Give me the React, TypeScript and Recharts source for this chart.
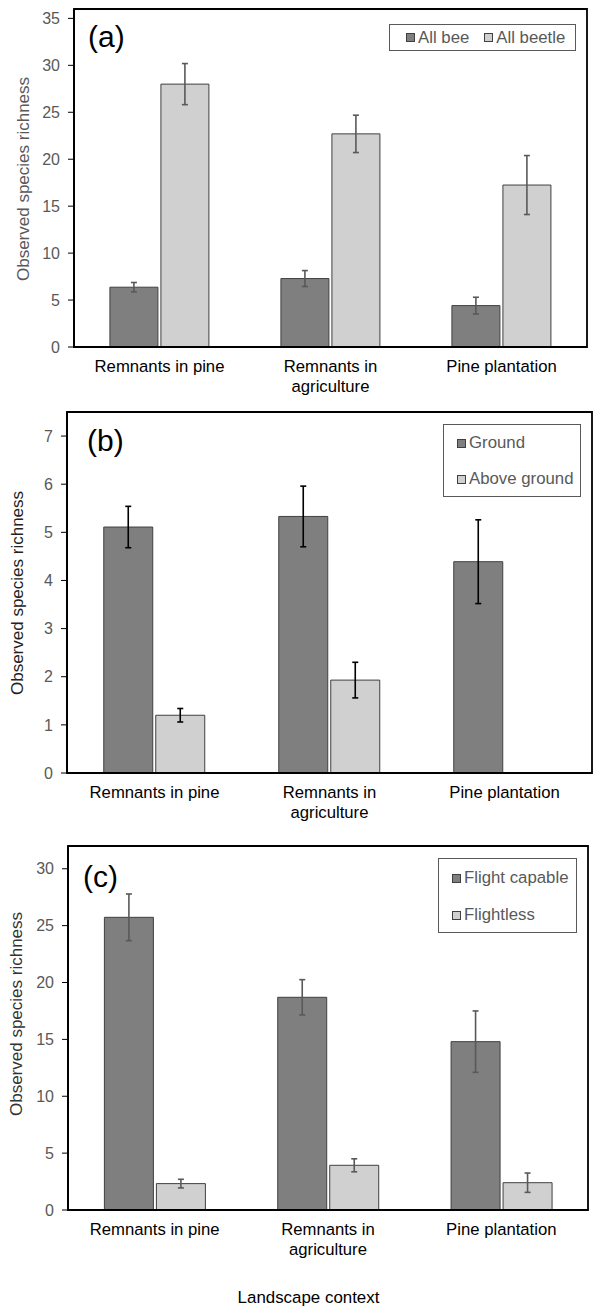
import React from "react";
import { BarChart, Bar, XAxis, YAxis, ErrorBar, Legend, ReferenceArea } from "recharts";

const FONT = '"Liberation Sans", Arial, sans-serif';
const DARK = "#7f7f7f";
const LIGHT = "#d0d0d0";
const OUTLINE = "#404040";
const GREY_TEXT = "#595959";

// categories along the x axis
const categories = ["Remnants in pine", "Remnants in agriculture", "Pine plantation"];
const categoryLines = [["Remnants in pine"], ["Remnants in", "agriculture"], ["Pine plantation"]];

// (a) bees vs beetles
const beeRichness = [6.37, 7.29, 4.41];
const beeSE = [0.5, 0.85, 0.89];
const beetleRichness = [28.0, 22.7, 17.25];
const beetleSE = [2.19, 1.99, 3.14];

// (b) ground vs above ground
const groundRichness = [5.11, 5.33, 4.39];
const groundSE = [0.43, 0.63, 0.87];
const aboveRichness = [1.2, 1.93, null];
const aboveSE = [0.14, 0.37, null];

// (c) flight capable vs flightless
const flightRichness = [25.73, 18.7, 14.8];
const flightSE = [2.05, 1.55, 2.7];
const flightlessRichness = [2.32, 3.93, 2.4];
const flightlessSE = [0.38, 0.57, 0.85];

const ticksA = [0, 5, 10, 15, 20, 25, 30, 35];
const ticksB = [0, 1, 2, 3, 4, 5, 6, 7];
const ticksC = [0, 5, 10, 15, 20, 25, 30];

type Series = { name: string; fill: string; values: (number | null)[]; se: (number | null)[] };

function buildRows(series: Series[]) {
  return categories.map((cat, i) => {
    const row: Record<string, any> = { cat };
    series.forEach((s, k) => {
      row[`s${k}`] = s.values[i];
      row[`e${k}`] = s.se[i];
    });
    return row;
  });
}

function CategoryTick({ x, y, payload }: any) {
  const idx = categories.indexOf(payload.value);
  const lines = categoryLines[idx] ?? [payload.value];
  return (
    <text x={x} y={y} textAnchor="middle" fontFamily={FONT} fontSize={16.7} fill="#000">
      {lines.map((l, i) => (
        <tspan key={i} x={x} dy={i === 0 ? 25 : 19.5}>
          {l}
        </tspan>
      ))}
    </text>
  );
}

type LegendBox = {
  left: number;
  top: number;
  width: number;
  height: number;
  vertical: boolean;
  rowCenters?: number[];
};

function Swatch({ fill }: { fill: string }) {
  return (
    <span
      style={{
        display: "inline-block",
        width: 7,
        height: 7,
        background: fill,
        border: `1px solid ${OUTLINE}`,
        marginRight: 3,
      }}
    />
  );
}

function makeLegend(series: Series[], box: LegendBox) {
  return () => (
    <div
      style={{
        position: "relative",
        width: box.width,
        height: box.height,
        boxSizing: "border-box",
        border: `1px solid ${GREY_TEXT}`,
        background: "#fff",
        fontFamily: FONT,
        fontSize: 16.8,
        color: GREY_TEXT,
      }}
    >
      {box.vertical ? (
        series.map((s, i) => (
          <div
            key={s.name}
            style={{
              position: "absolute",
              left: 13,
              top: (box.rowCenters ?? [])[i] - 10,
              height: 20,
              display: "flex",
              alignItems: "center",
              whiteSpace: "nowrap",
            }}
          >
            <Swatch fill={s.fill} />
            {s.name}
          </div>
        ))
      ) : (
        <div
          style={{
            position: "absolute",
            left: 16,
            top: 0,
            height: box.height - 2,
            display: "flex",
            alignItems: "center",
            gap: 15,
            whiteSpace: "nowrap",
          }}
        >
          {series.map((s) => (
            <span key={s.name} style={{ display: "flex", alignItems: "center" }}>
              <Swatch fill={s.fill} />
              {s.name}
            </span>
          ))}
        </div>
      )}
    </div>
  );
}

type PanelProps = {
  top: number;
  height: number;
  margin: { top: number; right: number; bottom: number; left: number };
  yMax: number;
  yTicks: number[];
  series: Series[];
  errColor: string;
  legend: LegendBox;
};

function Panel({ top, height, margin, yMax, yTicks, series, errColor, legend }: PanelProps) {
  const rows = buildRows(series);
  return (
    <div style={{ position: "absolute", left: 0, top }}>
      <BarChart
        width={597}
        height={height}
        data={rows}
        margin={margin}
        barCategoryGap="21%"
        barGap={3}
      >
        <ReferenceArea y1={0} y2={yMax} fill="none" stroke="#000" strokeWidth={1.8} />
        <XAxis
          dataKey="cat"
          axisLine={{ stroke: "#000", strokeWidth: 2 }}
          tickLine={false}
          tickSize={0}
          tickMargin={0}
          interval={0}
          height={30}
          tick={(p: any) => <CategoryTick {...p} />}
        />
        <YAxis
          type="number"
          domain={[0, yMax]}
          ticks={yTicks}
          interval={0}
          width={60}
          axisLine={{ stroke: "#000", strokeWidth: 2 }}
          tickLine={{ stroke: "#000" }}
          tickSize={6}
          tickMargin={8}
          tick={{ fill: GREY_TEXT, fontSize: 16, fontFamily: FONT }}
        />
        <Legend
          layout="horizontal"
          verticalAlign="middle"
          align="center"
          content={makeLegend(series, legend)}
          wrapperStyle={{
            left: legend.left,
            top: legend.top,
            width: legend.width,
            height: legend.height,
          }}
        />
        {series.map((s, k) => (
          <Bar
            key={s.name}
            dataKey={`s${k}`}
            name={s.name}
            fill={s.fill}
            stroke={OUTLINE}
            strokeWidth={1}
            isAnimationActive={false}
          >
            <ErrorBar
              dataKey={`e${k}`}
              width={3}
              strokeWidth={1.6}
              stroke={errColor}
              direction="y"
              isAnimationActive={false}
            />
          </Bar>
        ))}
      </BarChart>
    </div>
  );
}

const textBase: React.CSSProperties = {
  position: "absolute",
  fontFamily: FONT,
  whiteSpace: "nowrap",
  lineHeight: 1,
};

function YTitle({ cx, cy, color }: { cx: number; cy: number; color: string }) {
  return (
    <div
      style={{
        ...textBase,
        left: cx,
        top: cy,
        fontSize: 17,
        color,
        transform: "translate(-50%, -50%) rotate(-90deg)",
      }}
    >
      Observed species richness
    </div>
  );
}

function PanelLetter({ x, y, label }: { x: number; y: number; label: string }) {
  return <div style={{ ...textBase, left: x, top: y, fontSize: 30, color: "#000" }}>{label}</div>;
}

export default function App() {
  const seriesA: Series[] = [
    { name: "All bee", fill: DARK, values: beeRichness, se: beeSE },
    { name: "All beetle", fill: LIGHT, values: beetleRichness, se: beetleSE },
  ];
  const seriesB: Series[] = [
    { name: "Ground", fill: DARK, values: groundRichness, se: groundSE },
    { name: "Above ground", fill: LIGHT, values: aboveRichness, se: aboveSE },
  ];
  const seriesC: Series[] = [
    { name: "Flight capable", fill: DARK, values: flightRichness, se: flightSE },
    { name: "Flightless", fill: LIGHT, values: flightlessRichness, se: flightlessSE },
  ];

  return (
    <div
      style={{
        position: "absolute",
        left: 0,
        top: 0,
        width: 597,
        height: 1315,
        background: "#fff",
        overflow: "hidden",
      }}
    >
      <Panel
        top={0}
        height={400}
        margin={{ top: 9, right: 10, bottom: 23, left: 14 }}
        yMax={36}
        yTicks={ticksA}
        series={seriesA}
        errColor={GREY_TEXT}
        legend={{ left: 389, top: 24, width: 187, height: 27, vertical: false }}
      />
      <Panel
        top={400}
        height={440}
        margin={{ top: 12, right: 5, bottom: 37, left: 7 }}
        yMax={7.5}
        yTicks={ticksB}
        series={seriesB}
        errColor="#000"
        legend={{ left: 443, top: 24, width: 138, height: 73, vertical: true, rowCenters: [18, 54] }}
      />
      <Panel
        top={840}
        height={475}
        margin={{ top: 6, right: 9, bottom: 75, left: 8 }}
        yMax={32}
        yTicks={ticksC}
        series={seriesC}
        errColor={GREY_TEXT}
        legend={{ left: 438, top: 18, width: 139, height: 75, vertical: true, rowCenters: [19, 56] }}
      />

      <YTitle cx={23} cy={178.5} color={GREY_TEXT} />
      <YTitle cx={17} cy={592.5} color="#222" />
      <YTitle cx={16} cy={1014} color="#333" />

      <PanelLetter x={88} y={21.5} label="(a)" />
      <PanelLetter x={87} y={426} label="(b)" />
      <PanelLetter x={83} y={862} label="(c)" />

      <div
        style={{
          ...textBase,
          left: 308.5,
          top: 1298,
          fontSize: 16.9,
          color: "#000",
          transform: "translate(-50%, -50%)",
        }}
      >
        Landscape context
      </div>
    </div>
  );
}
